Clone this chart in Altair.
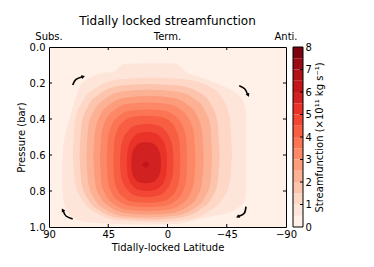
import altair as alt
import pandas as pd

# ---- colours of the 16 contour bands (0 .. 8 in steps of 0.5), Reds ----
BAND_COLORS = ["#fff0e8", "#fee5da", "#fed7c6", "#fcc4ad", "#fcb195", "#fc9c7b",
               "#fc8868", "#fb7454", "#f85e42", "#f24734", "#e93228", "#d12121",
               "#c2161b", "#af1117", "#9c0b13", "#7a040f"]
BAND_LO = [i * 0.5 for i in range(16)]
CBAR_TICKS = [0, 1, 2, 3, 4, 5, 6, 7, 8]

# ---- contour outlines: (latitude, top pressure, bottom pressure) ----
C1 = [(80.0, 0.68, 0.78), (79.3, 0.58, 0.84), (78.0, 0.50, 0.885), (76.0, 0.44, 0.92),
      (73.5, 0.37, 0.942), (70.0, 0.29, 0.955), (66.5, 0.22, 0.965), (60.0, 0.175, 0.974),
      (51.0, 0.147, 0.979), (41.0, 0.138, 0.982), (36.5, 0.11, 0.984), (33.0, 0.093, 0.985),
      (15.0, 0.090, 0.986), (-6.0, 0.091, 0.984), (-10.0, 0.11, 0.980), (-14.0, 0.138, 0.974),
      (-20.0, 0.156, 0.964), (-30.0, 0.18, 0.946), (-37.0, 0.20, 0.935), (-44.0, 0.222, 0.926),
      (-50.0, 0.245, 0.91), (-54.0, 0.268, 0.89), (-57.5, 0.30, 0.865), (-59.3, 0.35, 0.83),
      (-60.0, 0.42, 0.78)]
C2 = [(72.0, 0.59, 0.59), (70.2, 0.404, 0.759), (64.7, 0.303, 0.851), (53.9, 0.225, 0.922),
      (35.7, 0.179, 0.964), (11.5, 0.170, 0.972), (-12.7, 0.179, 0.962), (-30.9, 0.215, 0.915),
      (-41.7, 0.285, 0.845), (-47.2, 0.39, 0.755), (-49.0, 0.59, 0.59)]
C3 = [(66.8, 0.60, 0.60), (65.2, 0.425, 0.759), (60.4, 0.33, 0.846), (50.8, 0.257, 0.913),
      (34.9, 0.214, 0.952), (13.6, 0.205, 0.960), (-7.7, 0.214, 0.950), (-23.6, 0.250, 0.908),
      (-33.2, 0.322, 0.842), (-38.0, 0.42, 0.757), (-39.6, 0.60, 0.60)]
C4 = [(61.6, 0.61, 0.61), (60.2, 0.445, 0.759), (55.9, 0.356, 0.84), (47.3, 0.287, 0.903),
      (32.9, 0.246, 0.94), (13.8, 0.238, 0.947), (-5.3, 0.246, 0.938), (-19.7, 0.283, 0.900),
      (-28.3, 0.352, 0.838), (-32.6, 0.443, 0.757), (-34.0, 0.61, 0.61)]
C5 = [(56.3, 0.62, 0.62), (55.0, 0.466, 0.757), (51.3, 0.382, 0.832), (43.7, 0.318, 0.889),
      (31.2, 0.280, 0.923), (14.4, 0.272, 0.930), (-2.4, 0.280, 0.923), (-14.9, 0.318, 0.889),
      (-22.5, 0.382, 0.832), (-26.2, 0.466, 0.757), (-27.5, 0.62, 0.62)]
C6 = [(51.3, 0.625, 0.625), (50.2, 0.485, 0.752), (47.0, 0.409, 0.821), (40.4, 0.350, 0.874),
      (29.6, 0.315, 0.906), (15.1, 0.308, 0.912), (0.6, 0.315, 0.906), (-10.3, 0.350, 0.874),
      (-16.9, 0.409, 0.821), (-20.1, 0.485, 0.752), (-21.2, 0.625, 0.625)]
C7 = [(46.2, 0.63, 0.63), (45.3, 0.505, 0.745), (42.5, 0.437, 0.808), (37.0, 0.384, 0.856),
      (27.8, 0.353, 0.884), (15.6, 0.347, 0.890), (3.4, 0.353, 0.884), (-5.8, 0.384, 0.856),
      (-11.3, 0.437, 0.808), (-14.1, 0.505, 0.745), (-15.0, 0.63, 0.63)]
C8 = [(41.2, 0.635, 0.635), (40.4, 0.523, 0.737), (38.1, 0.462, 0.792), (33.6, 0.415, 0.835),
      (25.9, 0.388, 0.860), (15.7, 0.382, 0.865), (5.5, 0.388, 0.860), (-2.2, 0.415, 0.835),
      (-6.7, 0.462, 0.792), (-9.0, 0.523, 0.737), (-9.8, 0.635, 0.635)]
C9 = [(36.1, 0.64, 0.64), (35.5, 0.565, 0.709), (33.7, 0.513, 0.756), (30.0, 0.467, 0.798),
      (23.9, 0.435, 0.827), (15.8, 0.426, 0.835), (7.6, 0.435, 0.827), (1.5, 0.467, 0.798),
      (-2.2, 0.513, 0.756), (-4.0, 0.565, 0.709), (-4.6, 0.64, 0.64)]
C10 = [(31.0, 0.645, 0.645), (30.5, 0.584, 0.700), (29.2, 0.542, 0.737), (26.4, 0.505, 0.771),
       (21.8, 0.479, 0.794), (15.7, 0.472, 0.800), (9.5, 0.479, 0.794), (4.9, 0.505, 0.771),
       (2.1, 0.542, 0.737), (0.8, 0.584, 0.700), (0.3, 0.645, 0.645)]
C11 = [(27.5, 0.65, 0.65), (27.2, 0.607, 0.688), (26.2, 0.577, 0.714), (24.1, 0.551, 0.737),
       (20.8, 0.533, 0.753), (16.3, 0.528, 0.757), (11.8, 0.533, 0.753), (8.4, 0.551, 0.737),
       (6.4, 0.577, 0.714), (5.3, 0.607, 0.688), (5.0, 0.65, 0.65)]
C12 = [(19.6, 0.654, 0.654), (16.4, 0.633, 0.674), (13.3, 0.654, 0.654)]
CONTOURS = [C1, C2, C3, C4, C5, C6, C7, C8, C9, C10, C11, C12]

# ---- axes ----
X_TICKS = [90, 45, 0, -45, -90]
X_INNER_TICKS = [45, 0, -45]
Y_TICKS = [0.0, 0.2, 0.4, 0.6, 0.8, 1.0]
Y_INNER_TICKS = [0.2, 0.4, 0.6, 0.8]
TOP_LAT = [90, 0, -90]
TOP_LABELS = ["Subs.", "Term.", "Anti."]

# ---- circulation arrows ----
ARROW_ID = [0, 0, 0, 1, 1, 1, 2, 2, 2, 3, 3, 3]
ARROW_ORDER = [0, 1, 2, 0, 1, 2, 0, 1, 2, 0, 1, 2]
ARROW_LAT = [72.0, 69.5, 64.5, -54.5, -58.6, -60.8, -59.6, -58.3, -54.0, 72.0, 77.1, 79.2]
ARROW_P = [0.211, 0.180, 0.165, 0.215, 0.232, 0.262, 0.887, 0.924, 0.941, 0.956, 0.939, 0.910]
HEAD_LAT = [64.0, -61.3, -53.3, 79.6]
HEAD_P = [0.164, 0.268, 0.943, 0.905]
HEAD_ANGLE = [71, 154, 242, 331]

W, H = 237, 180
FONT = "DejaVu Sans"

xs = alt.Scale(domain=[90, -90], nice=False)
ys = alt.Scale(domain=[0, 1], reverse=True, nice=False, zero=False)
x_axis = alt.Axis(values=X_TICKS, title="Tidally-locked Latitude", tickSize=0, ticks=False,
                  domain=False, grid=False, labelFlush=False, labelPadding=2, titlePadding=3,
                  labelFontSize=10, titleFontSize=10, titleFontWeight="normal",
                  labelColor="black", titleColor="black")
y_axis = alt.Axis(values=Y_TICKS, format=".1f", title="Pressure (bar)", tickSize=0, ticks=False,
                  domain=False, grid=False, labelFlush=False, labelPadding=4, titlePadding=3,
                  labelFontSize=10, titleFontSize=10, titleFontWeight="normal",
                  labelColor="black", titleColor="black")

layers = []
for k, cont in enumerate(CONTOURS, start=1):
    df = pd.DataFrame(cont, columns=["lat", "top", "bot"])
    layers.append(
        alt.Chart(df).mark_area(
            interpolate="linear" if k == len(CONTOURS) else "monotone",
            color=BAND_COLORS[k]
        ).encode(
            x=alt.X("lat:Q", scale=xs, axis=x_axis),
            y=alt.Y("top:Q", scale=ys, axis=y_axis),
            y2="bot:Q",
        )
    )

xt = pd.DataFrame({"lat": X_INNER_TICKS})
yt = pd.DataFrame({"top": Y_INNER_TICKS})
tick_style = dict(color="black", strokeWidth=1)
layers += [
    alt.Chart(xt).mark_rule(**tick_style).encode(
        x=alt.X("lat:Q", scale=xs, axis=x_axis), y=alt.value(H), y2=alt.value(H - 3)),
    alt.Chart(xt).mark_rule(**tick_style).encode(
        x=alt.X("lat:Q", scale=xs, axis=x_axis), y=alt.value(0), y2=alt.value(3)),
    alt.Chart(yt).mark_rule(**tick_style).encode(
        y=alt.Y("top:Q", scale=ys, axis=y_axis), x=alt.value(0), x2=alt.value(3)),
    alt.Chart(yt).mark_rule(**tick_style).encode(
        y=alt.Y("top:Q", scale=ys, axis=y_axis), x=alt.value(W), x2=alt.value(W - 3)),
]

arrows = pd.DataFrame({"aid": ARROW_ID, "ord": ARROW_ORDER, "lat": ARROW_LAT, "top": ARROW_P})
heads = pd.DataFrame({"lat": HEAD_LAT, "top": HEAD_P, "ang": HEAD_ANGLE})
layers += [
    alt.Chart(arrows).mark_line(color="black", strokeWidth=1.6, interpolate="cardinal").encode(
        x=alt.X("lat:Q", scale=xs, axis=x_axis),
        y=alt.Y("top:Q", scale=ys, axis=y_axis),
        detail="aid:N", order="ord:Q"),
    alt.Chart(heads).mark_point(shape="triangle-up", filled=True, color="black",
                                opacity=1, size=16).encode(
        x=alt.X("lat:Q", scale=xs, axis=x_axis),
        y=alt.Y("top:Q", scale=ys, axis=y_axis),
        angle=alt.Angle("ang:Q", scale=None)),
]

top_df = pd.DataFrame({"lat": TOP_LAT, "label": TOP_LABELS})
layers.append(
    alt.Chart(top_df).mark_text(fontSize=10, font=FONT, baseline="alphabetic", color="black").encode(
        x=alt.X("lat:Q", scale=xs, axis=x_axis), y=alt.value(-7), text="label:N")
)
title_df = pd.DataFrame({"t": ["Tidally locked streamfunction"]})
layers.append(
    alt.Chart(title_df).mark_text(fontSize=12, font=FONT, baseline="alphabetic", color="black").encode(
        x=alt.value(W / 2), y=alt.value(-22), text="t:N")
)

main = alt.layer(*layers)

# ---- colour bar ----
cb = pd.DataFrame({"lo": BAND_LO, "hi": [v + 0.5 for v in BAND_LO], "col": BAND_COLORS})
cs = alt.Scale(domain=[0, 8], nice=False, zero=False)
c_axis = alt.Axis(orient="right", offset=17, values=CBAR_TICKS, format="d",
                  title="Streamfunction (×10¹¹ kg s⁻¹)", titleAngle=270, titleBaseline="top",
                  tickSize=0, ticks=False, domain=False, grid=False, labelFlush=False,
                  labelPadding=2, titlePadding=3, labelFontSize=10, titleFontSize=10,
                  titleFontWeight="normal", labelColor="black", titleColor="black")
cbar = alt.Chart(cb).mark_rect().encode(
    y=alt.Y("lo:Q", scale=cs, axis=c_axis), y2="hi:Q",
    x=alt.value(W + 7), x2=alt.value(W + 17),
    color=alt.Color("col:N", scale=None),
)
cframe = alt.Chart(pd.DataFrame({"lo": [0], "hi": [8]})).mark_rect(
    fillOpacity=0, stroke="black", strokeWidth=1).encode(
    y=alt.Y("lo:Q", scale=cs, axis=c_axis), y2="hi:Q",
    x=alt.value(W + 7), x2=alt.value(W + 17))
cticks = alt.Chart(pd.DataFrame({"lo": CBAR_TICKS[1:-1]})).mark_rule(color="black", strokeWidth=1).encode(
    y=alt.Y("lo:Q", scale=cs, axis=c_axis), x=alt.value(W + 17), x2=alt.value(W + 14))
colorbar = alt.layer(cbar, cframe, cticks)

chart = alt.layer(main, colorbar).resolve_scale(y="independent").properties(
    width=W, height=H,
    autosize=alt.AutoSizeParams(type="none"),
    padding={"left": 41, "top": 39, "right": 80, "bottom": 32},
).configure(font=FONT).configure_view(
    fill=BAND_COLORS[0], stroke="black", strokeWidth=1
)

chart.save("out.html", embed_options={"renderer": "svg", "actions": False})
